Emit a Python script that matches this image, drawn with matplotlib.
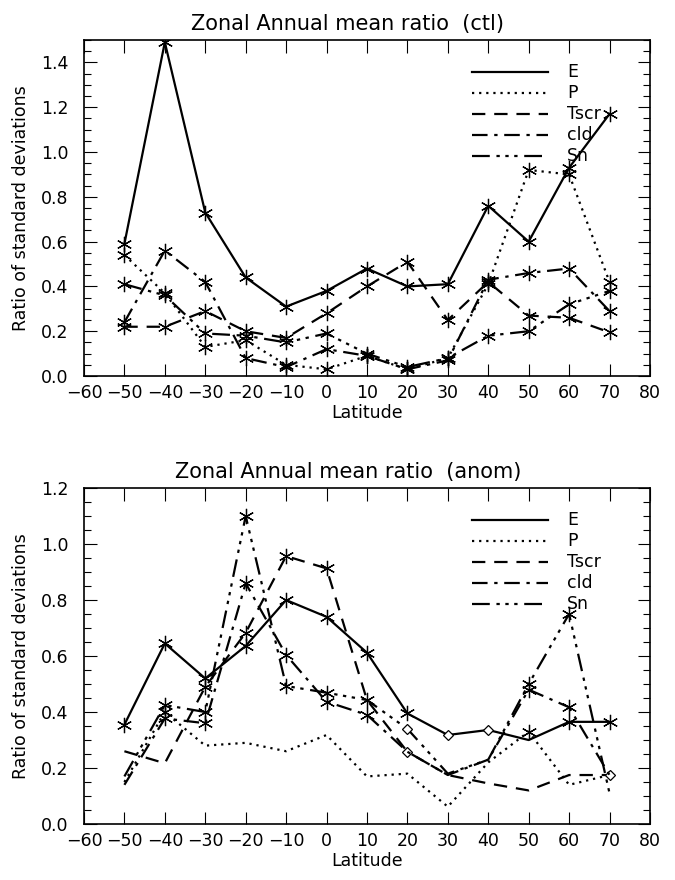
import numpy as np
import matplotlib
matplotlib.use("Agg")
import matplotlib.pyplot as plt
from matplotlib.ticker import MultipleLocator

# Zonal annual mean ratio of standard deviations, control run and anomaly
lats = [-50, -40, -30, -20, -10, 0, 10, 20, 30, 40, 50, 60, 70]
names = ["E", "P", "Tscr", "cld", "Sn"]

ctl_E = [0.59, 1.49, 0.73, 0.44, 0.31, 0.38, 0.48, 0.40, 0.41, 0.76, 0.60, 0.93, 1.17]
ctl_P = [0.54, 0.37, 0.13, 0.16, 0.05, 0.03, 0.09, 0.03, 0.08, 0.41, 0.92, 0.90, 0.42]
ctl_Tscr = [0.22, 0.22, 0.29, 0.20, 0.17, 0.28, 0.40, 0.51, 0.25, 0.42, 0.27, 0.26, 0.195]
ctl_cld = [0.24, 0.56, 0.42, 0.08, 0.04, 0.12, 0.09, 0.03, 0.07, 0.43, 0.46, 0.48, 0.29]
ctl_Sn = [0.41, 0.36, 0.19, 0.18, 0.15, 0.19, 0.10, 0.04, 0.08, 0.18, 0.20, 0.32, 0.38]

anom_E = [0.355, 0.645, 0.52, 0.636, 0.80, 0.74, 0.612, 0.395, 0.318, 0.336, 0.30, 0.365, 0.365]
anom_P = [0.15, 0.40, 0.28, 0.29, 0.26, 0.318, 0.17, 0.18, 0.062, 0.22, 0.33, 0.14, 0.175]
anom_Tscr = [0.26, 0.217, 0.49, 0.683, 0.957, 0.913, 0.443, 0.258, 0.175, 0.145, 0.12, 0.175, 0.175]
anom_cld = [0.14, 0.377, 0.36, 0.86, 0.604, 0.437, 0.39, 0.258, 0.175, 0.23, 0.48, 0.417, 0.175]
anom_Sn = [0.17, 0.425, 0.40, 1.10, 0.493, 0.469, 0.443, 0.34, 0.18, 0.23, 0.50, 0.75, 0.11]

# symbol per point: '*' asterisk, 'd' diamond, '-' none
ctl_syms = ["*************"] * 5
anom_syms = ["********dd-**",
             "-*--------*--",
             "--****-d----d",
             "-******---**-",
             "-******d--**-"]

styles = ["-", (0, (1, 2.2)), (0, (6, 4)), (0, (7, 3, 1.5, 3)),
          (0, (8, 3, 1.5, 2.5, 1.5, 2.5, 1.5, 3))]

star = (6, 2, 0)


def panel(ax, series, syms, title, ymax):
    for vals, ls, sym in zip(series, styles, syms):
        ax.plot(lats, vals, color="black", lw=1.6, ls=ls)
        xs = np.array(lats)
        vs = np.array(vals)
        mask = np.array([c == "*" for c in sym])
        ax.plot(xs[mask], vs[mask], ls="none", marker=star, ms=11,
                mec="black", mew=0.9, color="black")
        mask = np.array([c == "d" for c in sym])
        ax.plot(xs[mask], vs[mask], ls="none", marker="D", ms=5,
                mfc="white", mec="black", mew=0.9)

    # legend drawn by hand
    for i, (ls, nm) in enumerate(zip(styles, names)):
        y = 0.905 - i * 0.0625
        ax.plot([0.685, 0.82], [y, y], transform=ax.transAxes,
                color="black", lw=1.6, ls=ls)
        ax.text(0.853, y, nm, transform=ax.transAxes, fontsize=12.5,
                va="center", ha="left")

    ax.set_xlim(-60, 80)
    ax.set_ylim(0, ymax)
    ax.xaxis.set_major_locator(MultipleLocator(10))
    ax.yaxis.set_major_locator(MultipleLocator(0.2))
    ax.yaxis.set_minor_locator(MultipleLocator(0.05))
    ax.yaxis.set_major_formatter(lambda v, p: "%.1f" % v)
    ax.tick_params(axis="both", which="major", direction="in", length=9,
                   top=True, right=True, labelsize=12.5, width=0.8)
    ax.tick_params(axis="x", which="major", pad=6)
    ax.tick_params(axis="y", which="major", pad=11)
    ax.tick_params(axis="y", which="minor", direction="in", length=5,
                   right=True, width=0.8)
    ax.text(0.466, 1.018, title, transform=ax.transAxes, fontsize=15,
            ha="center", va="bottom")
    ax.set_xlabel("Latitude", fontsize=12.5, labelpad=1)
    ax.set_ylabel("Ratio of standard deviations", fontsize=12.5, labelpad=8)
    for sp in ax.spines.values():
        sp.set_linewidth(1.2)


fig = plt.figure(figsize=(6.75, 8.8), dpi=100)
ax1 = fig.add_axes([0.1244, 0.5727, 0.8385, 0.3818])
ax2 = fig.add_axes([0.1244, 0.0636, 0.8385, 0.3818])

panel(ax1, [ctl_E, ctl_P, ctl_Tscr, ctl_cld, ctl_Sn], ctl_syms,
      "Zonal Annual mean ratio  (ctl)", 1.5)
panel(ax2, [anom_E, anom_P, anom_Tscr, anom_cld, anom_Sn], anom_syms,
      "Zonal Annual mean ratio  (anom)", 1.2)

fig.savefig("out.png", dpi=100)
